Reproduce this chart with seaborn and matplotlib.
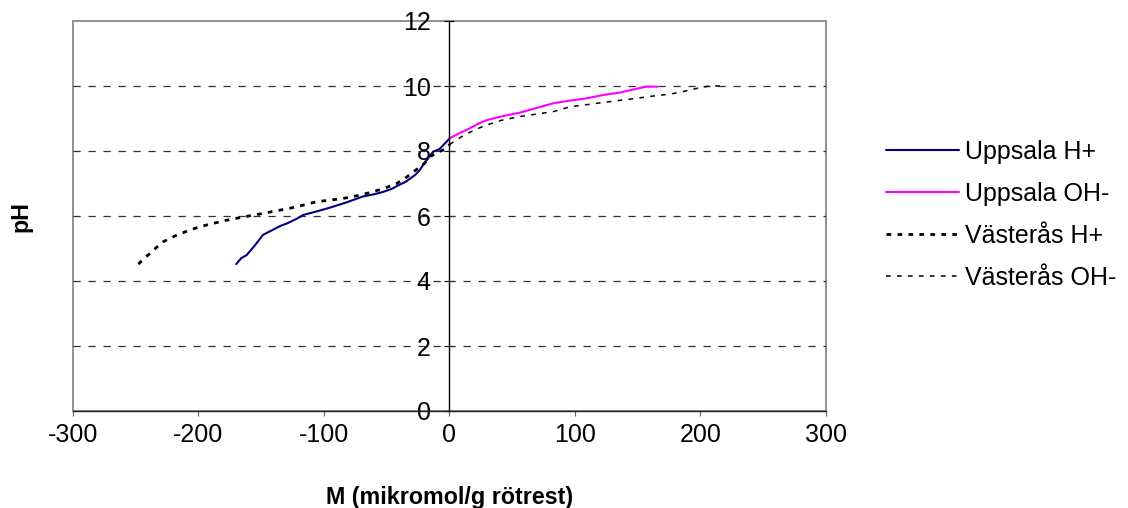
import matplotlib
matplotlib.use("Agg")
import matplotlib.pyplot as plt
import seaborn as sns
import numpy as np
import pandas as pd
from matplotlib.patches import Rectangle

# ---- data ----
upp_h_x = [-170, -166, -161.6, -155, -148.6, -142, -135, -129, -124.7, -120, -116.7, -105, -95, -82,
           -69, -60, -53, -45, -42, -35, -27.5, -24, -21, -17, -13, -8, -2, 0]
upp_h_y = [4.52, 4.7, 4.8, 5.1, 5.42, 5.55, 5.69, 5.78, 5.86, 5.95, 6.03, 6.15, 6.26, 6.42,
           6.6, 6.67, 6.74, 6.85, 6.92, 7.05, 7.26, 7.4, 7.57, 7.78, 7.98, 8.06, 8.3, 8.39]

upp_oh_x = [0, 8, 16.3, 23, 29.6, 42, 56, 70, 82.6, 96, 109, 122, 136, 146, 157, 166]
upp_oh_y = [8.39, 8.55, 8.7, 8.84, 8.95, 9.07, 9.18, 9.33, 9.47, 9.55, 9.62, 9.72, 9.8, 9.89, 9.98, 9.98]

vas_h_x = [-248, -243, -238.6, -233, -228, -218, -206.8, -198, -188.4, -179, -169.6, -160, -148.6,
           -138, -127, -116, -105.8, -95, -84.8, -74, -63.4, -52, -42, -34, -26, -20, -15.5, -8, -2.2, 0]
vas_h_y = [4.52, 4.7, 4.85, 5.05, 5.21, 5.4, 5.57, 5.68, 5.77, 5.86, 5.93, 6.0, 6.08,
           6.16, 6.24, 6.34, 6.44, 6.49, 6.54, 6.62, 6.72, 6.85, 7.0, 7.2, 7.44, 7.62, 7.83, 7.98, 8.08, 8.2]

vas_oh_x = [0, 10, 20, 29.6, 42, 56, 70, 82.6, 96, 110, 122, 136, 149, 162, 175.7, 185, 194, 201, 207.6, 217]
vas_oh_y = [8.2, 8.45, 8.65, 8.8, 8.95, 9.06, 9.14, 9.21, 9.36, 9.43, 9.49, 9.56, 9.62, 9.69, 9.75,
            9.82, 9.9, 9.96, 10.0, 10.0]

x_ticks = [-300, -200, -100, 0, 100, 200, 300]
y_ticks = [0, 2, 4, 6, 8, 10, 12]

# ---- style ----
sns.set_style("white")
plt.rcParams['font.family'] = ['Liberation Sans', 'DejaVu Sans']
plt.rcParams['lines.scale_dashes'] = False
for k in ['text.color', 'axes.labelcolor', 'xtick.labelcolor', 'ytick.labelcolor']:
    plt.rcParams[k] = 'black'

W, H = 1128, 508
fig = plt.figure(figsize=(W / 100, H / 100), dpi=100)
L, R, T, B = 73, 826, 21, 411
ax = fig.add_axes([L / W, 1 - B / H, (R - L) / W, (B - T) / H])

FS = 18

# gridlines
for yv in y_ticks[1:-1]:
    ax.axhline(yv, color='#303030', lw=0.9, linestyle=(0, (5.2, 5.6)), zorder=1)

series = [
    ("Uppsala H+", upp_h_x, upp_h_y, dict(color='#000080', lw=1.5, linestyle='-')),
    ("Uppsala OH-", upp_oh_x, upp_oh_y, dict(color='#FF00FF', lw=1.5, linestyle='-')),
    ("Västerås H+", vas_h_x, vas_h_y, dict(color='black', lw=2.0, linestyle=(0, (3.4, 4.5)))),
    ("Västerås OH-", vas_oh_x, vas_oh_y, dict(color='black', lw=1.1, linestyle=(0, (3.4, 4.5)))),
]
for name, xs, ys, kw in series:
    df = pd.DataFrame({"M": xs, "pH": ys})
    sns.lineplot(data=df, x="M", y="pH", ax=ax, sort=False, estimator=None,
                 label=name, zorder=3, **kw)

ax.set_xlim(-300, 300)
ax.set_ylim(0, 12)
ax.set_xticks(x_ticks)
ax.set_yticks(y_ticks)
ax.set_xticklabels([str(v) for v in x_ticks])
ax.set_yticklabels([str(v) for v in y_ticks])

# spines
for s in ['top', 'right']:
    ax.spines[s].set_visible(False)
ax.spines['left'].set_position(('data', 0))
ax.spines['left'].set_color('black')
ax.spines['left'].set_linewidth(1.0)
ax.spines['left'].set_zorder(4)
ax.spines['bottom'].set_color('#202020')
ax.spines['bottom'].set_linewidth(1.0)

# plot-area border
ax.add_patch(Rectangle((0, 0), 1, 1, transform=ax.transAxes, fill=False,
                       edgecolor='#909090', lw=1.4, zorder=0, clip_on=False))

ax.tick_params(axis='y', direction='inout', length=7, width=0.8, color='black',
               labelsize=FS, pad=10, left=True, labelcolor='black')
ax.tick_params(axis='x', direction='out', length=3.6, width=0.8, color='#606060',
               labelsize=FS, pad=5, bottom=True, labelcolor='black')

ax.set_xlabel("M (mikromol/g rötrest)", fontsize=FS * 0.93, fontweight='bold', color='black')
ax.set_ylabel("pH", fontsize=FS * 0.93, fontweight='bold', color='black')
ax.xaxis.set_label_coords(0.5, -(486 - B) / (B - T))
ax.yaxis.set_label_coords((32 - L) / (R - L), 0.5)

leg = ax.legend(loc='center left', bbox_to_anchor=(886 / W, 1 - 215 / H),
                bbox_transform=fig.transFigure, frameon=False, fontsize=FS,
                handlelength=2.9, handletextpad=0.25, labelspacing=0.72,
                borderpad=0, borderaxespad=0)
for t in leg.get_texts():
    t.set_color('black')

fig.savefig("out.png", dpi=100)
